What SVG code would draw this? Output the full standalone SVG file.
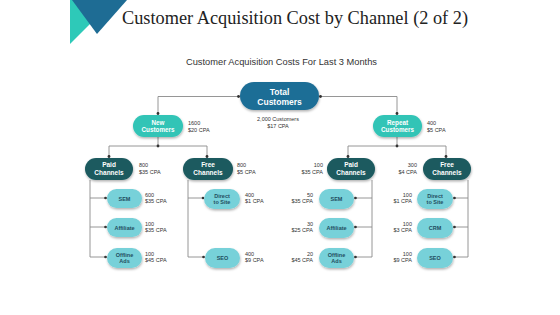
<svg xmlns="http://www.w3.org/2000/svg" width="560" height="315" viewBox="0 0 560 315">
<defs>
<filter id="sh" x="-20%" y="-20%" width="140%" height="160%"><feDropShadow dx="0.5" dy="1.5" stdDeviation="1" flood-color="#000" flood-opacity="0.3"/></filter>
<style>
.t{font-family:"Liberation Sans",Arial,sans-serif;font-weight:bold;fill:#fff;text-anchor:middle}
.lt{font-family:"Liberation Sans",Arial,sans-serif;font-weight:bold;fill:#1f4d5e;text-anchor:middle;font-size:5.5px}
.lb{font-family:"Liberation Sans",Arial,sans-serif;fill:#333;font-size:5.5px}
.lr{font-family:"Liberation Sans",Arial,sans-serif;fill:#333;font-size:5.5px;text-anchor:end}
.c{fill:none;stroke:#8a8a8a;stroke-width:0.9}
.d{fill:#333}
.n1{fill:#1f6e96;filter:url(#sh)}
.n2{fill:#31c4b6;filter:url(#sh)}
.n3{fill:#1b5a5f;filter:url(#sh)}
.n4{fill:#77d1d9;filter:url(#sh)}
</style>
</defs>
<rect width="560" height="315" fill="#fff"/>
<polygon points="70,0 114,0 70,44" fill="#2ec9b8"/>
<polygon points="72,0 127,0 97,34" fill="#1e6c94"/>
<text x="122" y="24" font-family="'Liberation Serif','DejaVu Serif',serif" font-size="19" fill="#222" textLength="346" lengthAdjust="spacingAndGlyphs">Customer Acquisition Cost by Channel (2 of 2)</text>
<text x="281.5" y="65" font-family="'Liberation Sans',Arial,sans-serif" font-size="9" fill="#333" text-anchor="middle" textLength="191" lengthAdjust="spacingAndGlyphs">Customer Acquisition Costs For Last 3 Months</text>

<g id="connectors">
<path class="c" d="M240,96.5H158V115"/>
<path class="c" d="M319,96.5H397V115"/>
<path class="c" d="M158,137V146M109,158V146H207V158"/>
<path class="c" d="M397,137V146M348,158V146H446V158"/>
<path class="c" d="M90,180V257H107M90,198H107M90,227H107"/>
<path class="c" d="M188,180V257H205M188,198H204"/>
<path class="c" d="M372,180V257H354M372,198H354M372,227H354"/>
<path class="c" d="M468,180V257H453M468,198H453M468,227H453"/>
<circle class="d" cx="238.5" cy="96.5" r="1.4"/>
<circle class="d" cx="320.5" cy="96.5" r="1.4"/>
<circle class="d" cx="158" cy="113.5" r="1.4"/>
<circle class="d" cx="397" cy="113.5" r="1.4"/>
<circle class="d" cx="158" cy="146" r="1.4"/>
<circle class="d" cx="397" cy="146" r="1.4"/>
<circle class="d" cx="109" cy="156.5" r="1.4"/>
<circle class="d" cx="207" cy="156.5" r="1.4"/>
<circle class="d" cx="348" cy="156.5" r="1.4"/>
<circle class="d" cx="446" cy="156.5" r="1.4"/>
<circle class="d" cx="105.5" cy="198" r="1.3"/>
<circle class="d" cx="105.5" cy="227" r="1.3"/>
<circle class="d" cx="105.5" cy="257" r="1.3"/>
<circle class="d" cx="203" cy="198" r="1.3"/>
<circle class="d" cx="203.5" cy="257" r="1.3"/>
<circle class="d" cx="355.5" cy="198" r="1.3"/>
<circle class="d" cx="355.5" cy="227" r="1.3"/>
<circle class="d" cx="355.5" cy="257" r="1.3"/>
<circle class="d" cx="454.5" cy="198" r="1.3"/>
<circle class="d" cx="454.5" cy="227" r="1.3"/>
<circle class="d" cx="454.5" cy="257" r="1.3"/>
</g>

<g id="total">
<rect class="n1" x="240" y="82" width="79" height="28" rx="14"/>
<text class="t" x="279.5" y="95" font-size="8.5">Total</text>
<text class="t" x="279.5" y="105" font-size="8.5">Customers</text>
<text class="lb" x="278" y="121" text-anchor="middle">2,000 Customers</text>
<text class="lb" x="278" y="128" text-anchor="middle">$17 CPA</text>
</g>

<g id="new">
<rect class="n2" x="133" y="115" width="50" height="22" rx="11"/>
<text class="t" x="158" y="124.5" font-size="6.3">New</text>
<text class="t" x="158" y="132" font-size="6.3">Customers</text>
<text class="lb" x="188" y="125">1600</text>
<text class="lb" x="188" y="132">$20 CPA</text>
</g>

<g id="repeat">
<rect class="n2" x="373" y="115" width="49" height="22" rx="11"/>
<text class="t" x="397.5" y="124.5" font-size="6.3">Repeat</text>
<text class="t" x="397.5" y="132" font-size="6.3">Customers</text>
<text class="lb" x="427" y="125">400</text>
<text class="lb" x="427" y="132">$5 CPA</text>
</g>

<g id="paid-left">
<rect class="n3" x="85" y="158" width="48" height="22" rx="11"/>
<text class="t" x="109" y="167" font-size="6.5">Paid</text>
<text class="t" x="109" y="174.5" font-size="6.5">Channels</text>
<text class="lb" x="139" y="167">800</text>
<text class="lb" x="139" y="174">$35 CPA</text>
</g>

<g id="free-left">
<rect class="n3" x="183" y="158" width="50" height="22" rx="11"/>
<text class="t" x="208" y="167" font-size="6.5">Free</text>
<text class="t" x="208" y="174.5" font-size="6.5">Channels</text>
<text class="lb" x="237" y="167">800</text>
<text class="lb" x="237" y="174">$5 CPA</text>
</g>

<g id="paid-right">
<rect class="n3" x="327" y="158" width="48" height="22" rx="11"/>
<text class="t" x="351" y="167" font-size="6.5">Paid</text>
<text class="t" x="351" y="174.5" font-size="6.5">Channels</text>
<text class="lr" x="323" y="167">100</text>
<text class="lr" x="323" y="174">$35 CPA</text>
</g>

<g id="free-right">
<rect class="n3" x="423" y="158" width="48" height="22" rx="11"/>
<text class="t" x="447" y="167" font-size="6.5">Free</text>
<text class="t" x="447" y="174.5" font-size="6.5">Channels</text>
<text class="lr" x="417" y="167">300</text>
<text class="lr" x="417" y="174">$4 CPA</text>
</g>

<g id="sem-left">
<rect class="n4" x="107" y="189" width="35" height="19" rx="9.5"/>
<text class="lt" x="124.5" y="200.5">SEM</text>
<text class="lb" x="145" y="197">600</text>
<text class="lb" x="145" y="203">$35 CPA</text>
</g>
<g id="affiliate-left">
<rect class="n4" x="107" y="218" width="35" height="19" rx="9.5"/>
<text class="lt" x="124.5" y="229.5">Affiliate</text>
<text class="lb" x="145" y="226">100</text>
<text class="lb" x="145" y="232">$35 CPA</text>
</g>
<g id="offline-left">
<rect class="n4" x="107" y="248" width="35" height="20" rx="10"/>
<text class="lt" x="124.5" y="256.5">Offline</text>
<text class="lt" x="124.5" y="263">Ads</text>
<text class="lb" x="145" y="256">100</text>
<text class="lb" x="145" y="262">$45 CPA</text>
</g>
<g id="direct-left">
<rect class="n4" x="204" y="189" width="36" height="20" rx="10"/>
<text class="lt" x="222" y="197.5">Direct</text>
<text class="lt" x="222" y="204">to Site</text>
<text class="lb" x="245" y="196.5">400</text>
<text class="lb" x="245" y="202.5">$1 CPA</text>
</g>
<g id="seo-left">
<rect class="n4" x="205" y="248" width="35" height="20" rx="10"/>
<text class="lt" x="222.5" y="260">SEO</text>
<text class="lb" x="245" y="256">400</text>
<text class="lb" x="245" y="262">$9 CPA</text>
</g>

<g id="sem-right">
<rect class="n4" x="319" y="189" width="35" height="20" rx="10"/>
<text class="lt" x="336.5" y="201">SEM</text>
<text class="lr" x="313" y="196.5">50</text>
<text class="lr" x="313" y="202.5">$35 CPA</text>
</g>
<g id="affiliate-right">
<rect class="n4" x="319" y="218" width="35" height="20" rx="10"/>
<text class="lt" x="336.5" y="230">Affiliate</text>
<text class="lr" x="313" y="225.5">30</text>
<text class="lr" x="313" y="231.5">$25 CPA</text>
</g>
<g id="offline-right">
<rect class="n4" x="319" y="248" width="35" height="20" rx="10"/>
<text class="lt" x="336.5" y="256.5">Offline</text>
<text class="lt" x="336.5" y="263">Ads</text>
<text class="lr" x="313" y="255.5">20</text>
<text class="lr" x="313" y="261.5">$45 CPA</text>
</g>
<g id="direct-right">
<rect class="n4" x="417" y="189" width="36" height="20" rx="10"/>
<text class="lt" x="435" y="197.5">Direct</text>
<text class="lt" x="435" y="204">to Site</text>
<text class="lr" x="412" y="196.5">100</text>
<text class="lr" x="412" y="202.5">$1 CPA</text>
</g>
<g id="crm-right">
<rect class="n4" x="417" y="218" width="36" height="20" rx="10"/>
<text class="lt" x="435" y="230">CRM</text>
<text class="lr" x="412" y="225.5">100</text>
<text class="lr" x="412" y="231.5">$3 CPA</text>
</g>
<g id="seo-right">
<rect class="n4" x="417" y="248" width="36" height="20" rx="10"/>
<text class="lt" x="435" y="260">SEO</text>
<text class="lr" x="412" y="255.5">100</text>
<text class="lr" x="412" y="261.5">$9 CPA</text>
</g>
</svg>
